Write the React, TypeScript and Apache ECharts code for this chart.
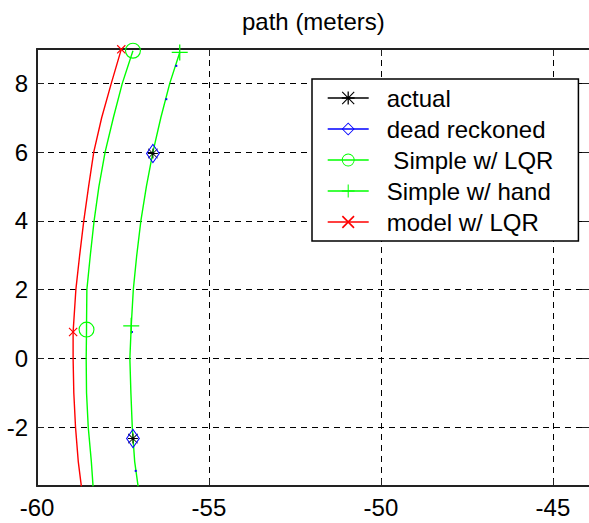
import React, { useEffect, useRef } from 'react';
import * as echarts from 'echarts';

// ---------- data ----------
const X_MIN = -60;
const X_MAX = -43.95;
const Y_MIN = -3.71;
const Y_MAX = 9.0;

const seriesNames = ['actual', 'dead reckoned', ' Simple w/ LQR', 'Simple w/ hand', 'model w/ LQR'];
const seriesColors = ['#000000', '#0000ff', '#00ff00', '#00ff00', '#ff0000'];

// actual (black, hidden under the green "hand" path except at markers)
const actualX = [-55.85, -56.14, -56.4, -56.63, -56.82, -56.98, -57.1, -57.2, -57.26, -57.3, -57.27, -57.23, -57.21, -57.16, -57.06];
const actualY = [8.9, 8.0, 7.0, 5.96, 5.0, 4.0, 3.0, 2.0, 1.0, 0.0, -1.0, -2.0, -2.33, -3.0, -3.72];
const actualMarks = [3, 12];

// dead reckoned (blue)
const deadX = [-55.85, -55.95, -56.14, -56.24, -56.4, -56.63, -56.82, -56.98, -57.1, -57.2, -57.26, -57.24, -57.3, -57.27, -57.23, -57.21, -57.16, -57.13, -57.06];
const deadY = [8.9, 8.51, 8.0, 7.54, 7.0, 5.96, 5.0, 4.0, 3.0, 2.0, 1.0, 0.77, 0.0, -1.0, -2.0, -2.33, -3.0, -3.27, -3.72];
const deadMarks = [5, 15];
const deadSpecks = [1, 3, 11, 17];

// Simple w/ LQR (green, circles)
const lqrX = [-57.21, -57.52, -57.78, -58.02, -58.2, -58.34, -58.45, -58.55, -58.56, -58.56, -58.57, -58.56, -58.51, -58.42, -58.37];
const lqrY = [8.95, 8.0, 7.0, 6.0, 5.0, 4.0, 3.0, 2.0, 1.0, 0.84, 0.0, -1.0, -2.0, -3.0, -3.72];
const lqrMarks = [0, 9];

// Simple w/ hand (green, plus)
const handX = [-55.85, -56.14, -56.4, -56.63, -56.82, -56.98, -57.1, -57.2, -57.26, -57.3, -57.27, -57.23, -57.16, -57.06];
const handY = [8.9, 8.0, 7.0, 6.0, 5.0, 4.0, 3.0, 2.0, 0.95, 0.0, -1.0, -2.0, -3.0, -3.72];
const handMarks = [0, 8];

// model w/ LQR (red, x)
const modelX = [-57.55, -57.84, -58.12, -58.35, -58.5, -58.64, -58.76, -58.87, -58.95, -58.95, -58.93, -58.88, -58.8, -58.71];
const modelY = [8.99, 8.0, 7.0, 6.0, 5.0, 4.0, 3.0, 2.0, 0.77, 0.0, -1.0, -2.0, -3.0, -3.72];
const modelMarks = [0, 8];

// ---------- marker shapes ----------
const SYM_ASTERISK =
  'path://M0,45H100V55H0Z M45,0H55V100H45Z M6,0L100,94L94,100L0,6Z M94,0L100,6L6,100L0,94Z';
const SYM_DIAMOND = 'path://M50,0L100,50L50,100L0,50Z M50,9L9,50L50,91L91,50Z';
const SYM_CIRCLE =
  'path://M50,0A50,50 0 1,1 50,100A50,50 0 1,1 50,0Z M50,7A43,43 0 1,0 50,93A43,43 0 1,0 50,7Z';
const SYM_PLUS = 'path://M0,46H100V54H0Z M46,0H54V100H46Z';
const SYM_X = 'path://M0,9L9,0L100,91L91,100Z M91,0L100,9L9,100L0,91Z';

const FONT = '"Liberation Sans", Arial, Helvetica, sans-serif';
const LINE_W = 1.4;

function build(xs: number[], ys: number[], marks: number[], specks: number[] = []) {
  return xs.map((x, i) => {
    if (marks.includes(i)) return { value: [x, ys[i]] };
    if (specks.includes(i)) return { value: [x, ys[i]], symbol: 'rect', symbolSize: 2 };
    return { value: [x, ys[i]], symbol: 'none' };
  });
}

function lineSeries(name: string, data: any[], color: string, symbol: string, size: any, hiddenLine = false) {
  return {
    name,
    type: 'line',
    data,
    symbol,
    symbolSize: size,
    showSymbol: true,
    symbolKeepAspect: false,
    clip: true,
    silent: true,
    lineStyle: { color, width: LINE_W, opacity: hiddenLine ? 0 : 1 },
    itemStyle: { color, borderWidth: 0 },
    emphasis: { disabled: true },
  };
}

export default function App() {
  const ref = useRef<HTMLDivElement>(null);

  useEffect(() => {
    if (!ref.current) return;
    const chart = echarts.init(ref.current, null, { renderer: 'svg' });

    const splitLine = {
      show: true,
      showMinLine: false,
      showMaxLine: false,
      lineStyle: { color: '#000', width: 1, type: [6, 5] },
    };
    const axisLine = { show: true, onZero: false, lineStyle: { color: '#222', width: 2 } };
    const tick = { show: true, inside: true, length: 7, lineStyle: { color: '#222', width: 1 } };

    const xFmt = (v: number) => (Math.abs(v / 5 - Math.round(v / 5)) < 1e-6 ? String(v) : '');
    const yFmt = (v: number) => (Math.abs(v / 2 - Math.round(v / 2)) < 1e-6 ? String(v) : '');

    chart.setOption({
      animation: false,
      backgroundColor: '#fff',
      textStyle: { fontFamily: FONT },
      title: {
        text: 'path (meters)',
        left: 242,
        top: 9,
        padding: 0,
        textStyle: { fontFamily: FONT, fontSize: 24, fontWeight: 'normal', color: '#000' },
      },
      grid: { left: 37, right: 0, top: 49, bottom: 37, containLabel: false, outerBoundsMode: 'none' },
      xAxis: [
        {
          type: 'value',
          position: 'bottom',
          min: X_MIN,
          max: X_MAX,
          interval: 5,
          axisLine,
          axisTick: tick,
          splitLine,
          axisLabel: { formatter: xFmt, fontSize: 24, color: '#000', margin: 9, fontFamily: FONT },
        },
        {
          type: 'value',
          position: 'top',
          min: X_MIN,
          max: X_MAX,
          interval: 5,
          axisLine,
          axisTick: tick,
          splitLine: { show: false },
          axisLabel: { show: false },
        },
      ],
      yAxis: [
        {
          type: 'value',
          position: 'left',
          min: Y_MIN,
          max: Y_MAX,
          splitNumber: 6,
          axisLine,
          axisTick: tick,
          splitLine,
          axisLabel: { formatter: yFmt, fontSize: 24, color: '#000', margin: 9, fontFamily: FONT },
        },
        {
          type: 'value',
          position: 'right',
          min: Y_MIN,
          max: Y_MAX,
          splitNumber: 6,
          axisLine: { show: false, onZero: false },
          axisTick: tick,
          splitLine: { show: false },
          axisLabel: { show: false },
        },
      ],
      legend: {
        orient: 'vertical',
        left: 312,
        top: 79,
        padding: [7, 25, 7, 15],
        itemWidth: 41,
        itemHeight: 16,
        itemGap: 7,
        backgroundColor: '#fff',
        borderColor: '#000',
        borderWidth: 1.5,
        selectedMode: false,
        itemStyle: { borderWidth: 0 },
        textStyle: { fontFamily: FONT, fontSize: 24, color: '#000', padding: [0, 0, 0, 13] },
        data: seriesNames.map((name, i) => ({
          name,
          lineStyle: { color: seriesColors[i], width: LINE_W, opacity: 1 },
        })),
      },
      series: [
        lineSeries(seriesNames[0], build(actualX, actualY, actualMarks), seriesColors[0], SYM_ASTERISK, 10, true),
        lineSeries(seriesNames[1], build(deadX, deadY, deadMarks, deadSpecks), seriesColors[1], SYM_DIAMOND, [14, 20], true),
        lineSeries(seriesNames[2], build(lqrX, lqrY, lqrMarks), seriesColors[2], SYM_CIRCLE, 16),
        lineSeries(seriesNames[3], build(handX, handY, handMarks), seriesColors[3], SYM_PLUS, 16),
        lineSeries(seriesNames[4], build(modelX, modelY, modelMarks), seriesColors[4], SYM_X, 9),
      ],
    });

    return () => chart.dispose();
  }, []);

  return (
    <div
      ref={ref}
      style={{ position: 'fixed', left: 0, top: 0, width: 589, height: 523, background: '#fff' }}
    />
  );
}
